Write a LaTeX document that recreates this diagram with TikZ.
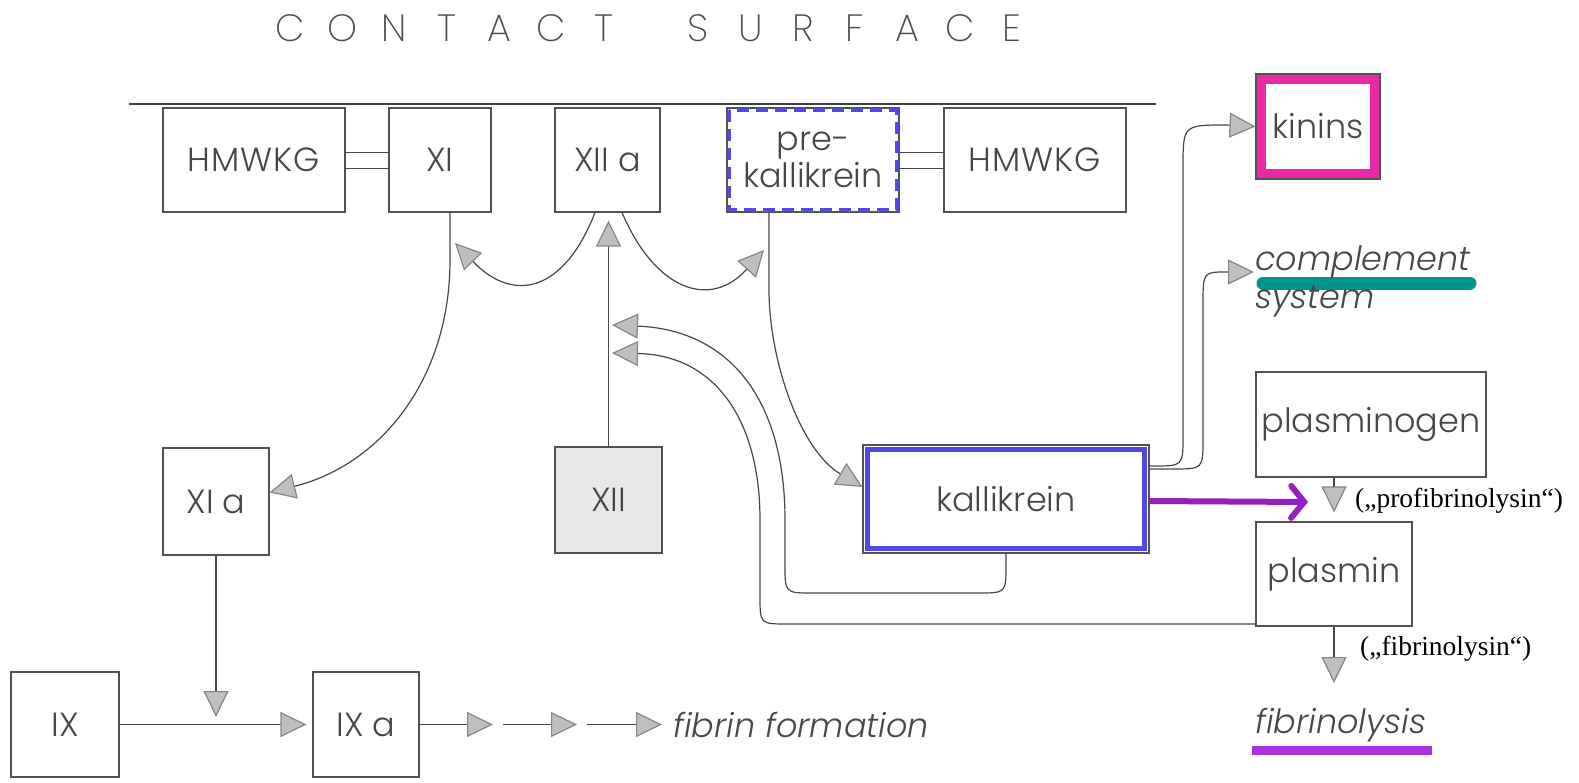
\documentclass[tikz,border=0pt]{standalone}
\usepackage{fontspec}
\IfFontExistsTF{Poppins Light}{\setmainfont{Poppins Light}}{\setmainfont{Poppins}}
\IfFontExistsTF{Poppins ExtraLight}{\newfontfamily\titlefont{Poppins ExtraLight}}{\newfontfamily\titlefont{Poppins}}
\newfontfamily\tms{Liberation Serif}
\usetikzlibrary{arrows.meta}
\definecolor{kblue}{RGB}{82,72,228}
\definecolor{kpink}{RGB}{234,40,168}
\definecolor{kteal}{RGB}{0,150,142}
\definecolor{kpurple}{RGB}{150,32,190}
\definecolor{kviolet}{RGB}{170,50,224}
\newcommand\ttlet[1]{\makebox[52.3pt]{#1}}
\begin{document}
\begin{tikzpicture}[x=1pt,y=-1pt,
  box/.style={draw=black!68,line width=1.1pt,inner sep=0pt,align=center,text=black!72,
    font=\fontsize{33.5}{37}\selectfont},
  lbl/.style={inner sep=0pt,text=black!72,font=\fontsize{33.5}{37}\selectfont\itshape},
  tlbl/.style={inner sep=0pt,text=black,font=\tms\fontsize{27.5}{30}\selectfont},
  conn/.style={draw=black!72,line width=1.2pt,
    -{Triangle[length=26pt,width=25pt,color=black!48,fill=black!25]}},
  plain/.style={draw=black!72,line width=1.2pt}]
\useasboundingbox (0,0) rectangle (1579,782);
% title
\node[inner sep=0pt,text=black!70,font=\titlefont\fontsize{38}{40}\selectfont] (title) at (651,28)
 {\ttlet{C}\ttlet{O}\ttlet{N}\ttlet{T}\ttlet{A}\ttlet{C}\ttlet{T}\hspace{42pt}\ttlet{S}\ttlet{U}\ttlet{R}\ttlet{F}\ttlet{A}\ttlet{C}\ttlet{E}};
\draw[line width=1.3pt,draw=black!75] (129,104) coordinate (sl) -- (1156,104) coordinate (sr);
% top row
\node[box,minimum width=182pt,minimum height=104pt] (hmwkgL) at (254,160) {\addfontfeatures{LetterSpace=3}HMWKG};
\node[box,minimum width=102pt,minimum height=104pt] (xi) at (440,160) {XI};
\node[box,minimum width=105pt,minimum height=104pt] (xiia) at (607.5,160) {XII a};
\node[box,minimum width=172pt,minimum height=104pt] (prek) at (813,160) {pre-\\kallikrein};
\node[box,minimum width=182pt,minimum height=104pt] (hmwkgR) at (1035,160) {\addfontfeatures{LetterSpace=3}HMWKG};
\draw[kblue,line width=4pt,dash pattern=on 12pt off 7pt]
  ([shift={(3pt,-3pt)}]prek.north west) rectangle ([shift={(-3pt,3pt)}]prek.south east);
\foreach \dy in {7.5,-8}{
  \draw[plain,line width=1pt] ([yshift=\dy pt]hmwkgL.east) -- ([yshift=\dy pt]xi.west);
  \draw[plain,line width=1pt] ([yshift=\dy pt]prek.east) -- ([yshift=\dy pt]hmwkgR.west);
}
% right column
\node[box,minimum width=124pt,minimum height=105pt] (kinins) at (1318,126.5) {kinins};
\draw[kpink,line width=9pt]
  ([shift={(6pt,-6pt)}]kinins.north west) rectangle ([shift={(-6pt,6pt)}]kinins.south east);
\draw[kteal,line width=13pt,line cap=round] (1263,283) coordinate (hl1) -- (1470,283) coordinate (hl2);
\node[lbl,anchor=base west] (comp) at (1255,270) {complement};
\node[lbl,anchor=base west] (sys) at (1255,308) {system};
\node[box,minimum width=230pt,minimum height=105pt] (plg) at (1371,424.5) {plasminogen};
\node[box,minimum width=156pt,minimum height=104pt] (plm) at (1334,574) {plasmin};
\node[tlbl,anchor=base west] (pfl) at (1355,507) {(„profibrinolysin“)};
\node[tlbl,anchor=base west] (fl) at (1360,655) {(„fibrinolysin“)};
\node[lbl,anchor=base west] (fls) at (1255,733) {fibrinolysis};
\draw[kviolet,line width=9pt] (1252,750) coordinate (u1) -- (1432,750) coordinate (u2);
% middle
\node[box,minimum width=286pt,minimum height=108pt] (kal) at (1006,499) {kallikrein};
\draw[kblue,line width=5pt]
  ([shift={(5pt,-5pt)}]kal.north west) rectangle ([shift={(-5pt,5pt)}]kal.south east);
\node[box,minimum width=106pt,minimum height=107pt] (xia) at (216,501.5) {XI a};
\node[box,minimum width=107pt,minimum height=106pt,fill=black!9] (xii) at (608.5,500) {XII};
% bottom row
\node[box,minimum width=108pt,minimum height=105pt] (ix) at (65,724.5) {IX};
\node[box,minimum width=106pt,minimum height=105pt] (ixa) at (366,724.5) {IX a};
\node[lbl,anchor=base west] (fibf) at (673,737) {fibrin formation};
% free ends
\coordinate (tXI) at (455,243);
\coordinate (tPK) at (764,250);
\coordinate (tU) at (612,325);
\coordinate (tL) at (612,353);
\coordinate (tC) at (1254,272);
\coordinate (tP) at (1308,502);
\coordinate (tF) at (1334,683);
\coordinate (tIX) at (216,717);
\coordinate (f1) at (493,724.5);
\coordinate (f2s) at (503,724.5);
\coordinate (f2e) at (577,724.5);
\coordinate (f3s) at (587,724.5);
\coordinate (f3e) at (662,724.5);
% connectors
\draw[conn] ([xshift=10pt]xi.south) -- (450,260) .. controls (450,380) and (380,465) .. ([yshift=9pt]xia.east);
\draw[conn] ([xshift=-12.5pt]xiia.south) .. controls (565,290) and (515,305) .. (tXI);
\draw[conn] ([xshift=14.5pt]xiia.south) .. controls (655,290) and (710,310) .. (tPK);
\draw[conn] ([xshift=-44pt]prek.south) -- (769,290) .. controls (769,360) and (800,450) .. ([yshift=12pt]kal.west);
\draw[conn,shorten >=8pt] (xii.north) -- (xii.north |- xiia.south);
\draw[conn] (kal.south) -- (1006,565) .. controls (1006,593) .. (978,593) -- (813,593)
  .. controls (785,593) .. (785,565) -- (785,520) .. controls (785,400) and (730,330) .. (tU);
\draw[conn] ([yshift=-50pt]plm.west) -- (788,624) .. controls (760,624) .. (760,596) -- (760,520)
  .. controls (760,420) and (715,355) .. (tL);
\draw[conn] ([yshift=33pt]kal.east) -- (1153,466) .. controls (1183,466) .. (1183,436) -- (1183,168)
  .. controls (1183,125) .. (1226,125) -- (kinins.west);
\draw[conn] ([yshift=30pt]kal.east) -- (1173,469) .. controls (1203,469) .. (1203,439) -- (1203,306)
  .. controls (1203,272) .. (1226,272) -- (tC);
\draw[kpurple,line width=6pt,-{Straight Barb[length=13pt,width=32pt,line cap=round]}] ([yshift=-2pt]kal.east) -- (tP);
\draw[conn,shorten >=9pt] (plg.south -| plm.north) -- (plm.north);
\draw[conn] (plm.south) -- (tF);
\draw[conn] (xia.south) -- (tIX);
\draw[conn,shorten >=6pt] (ix.east) -- (ixa.west);
\draw[conn] (ixa.east) -- (f1);
\draw[conn] (f2s) -- (f2e);
\draw[conn] (f3s) -- (f3e);
\end{tikzpicture}
\end{document}
